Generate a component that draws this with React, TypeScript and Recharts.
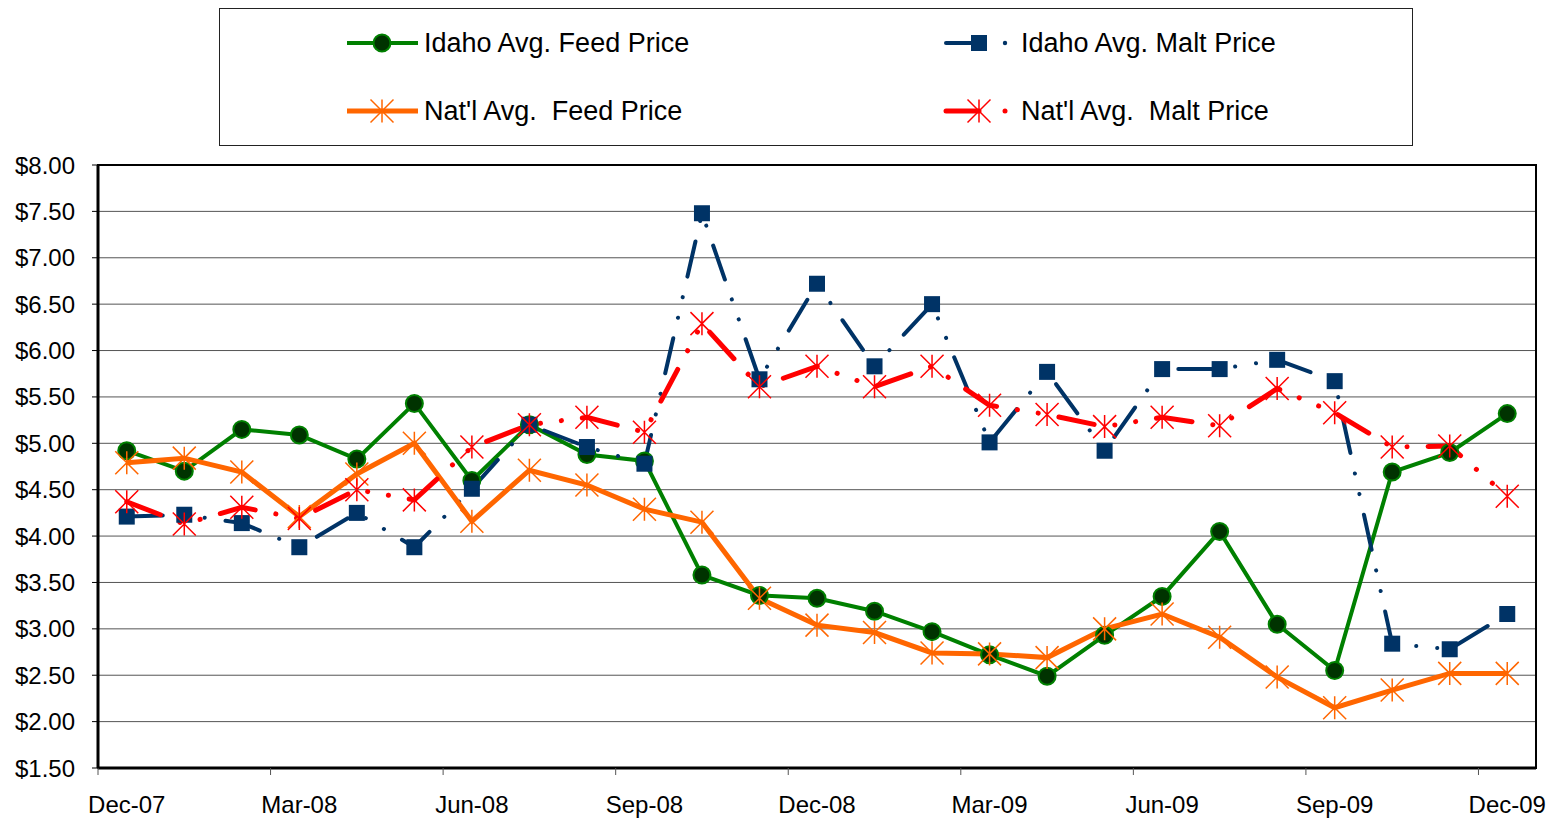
import React from 'react';
import { CartesianGrid, Line, LineChart, ReferenceArea, XAxis, YAxis } from 'recharts';

const months = [
  'Dec-07', 'Jan-08', 'Feb-08', 'Mar-08', 'Apr-08', 'May-08', 'Jun-08', 'Jul-08', 'Aug-08',
  'Sep-08', 'Oct-08', 'Nov-08', 'Dec-08', 'Jan-09', 'Feb-09', 'Mar-09', 'Apr-09', 'May-09',
  'Jun-09', 'Jul-09', 'Aug-09', 'Sep-09', 'Oct-09', 'Nov-09', 'Dec-09',
];

const idahoFeed = [4.92, 4.7, 5.15, 5.09, 4.83, 5.43, 4.6, 5.2, 4.88, 4.81, 3.58, 3.36, 3.33, 3.19, 2.97, 2.72, 2.49, 2.93, 3.35, 4.05, 3.05, 2.55, 4.69, 4.9, 5.32];
const idahoMalt = [4.21, 4.23, 4.14, 3.88, 4.25, 3.88, 4.51, 5.2, 4.96, 4.78, 7.48, 5.69, 6.72, 5.83, 6.5, 5.01, 5.77, 4.92, 5.8, 5.8, 5.9, 5.67, 2.84, 2.78, 3.16];
const natlFeed = [4.79, 4.84, 4.69, 4.21, 4.67, 5.0, 4.16, 4.71, 4.55, 4.29, 4.15, 3.33, 3.04, 2.96, 2.74, 2.73, 2.69, 3.0, 3.16, 2.91, 2.48, 2.15, 2.34, 2.52, 2.52];
const natlMalt = [4.37, 4.13, 4.31, 4.19, 4.5, 4.39, 4.96, 5.2, 5.28, 5.12, 6.29, 5.61, 5.83, 5.61, 5.83, 5.41, 5.31, 5.18, 5.28, 5.19, 5.59, 5.33, 4.96, 4.97, 4.43];

const priceTicks = [1.5, 2, 2.5, 3, 3.5, 4, 4.5, 5, 5.5, 6, 6.5, 7, 7.5, 8];

const data = months.map((month, i) => ({
  month,
  idahoFeed: idahoFeed[i],
  idahoMalt: idahoMalt[i],
  natlFeed: natlFeed[i],
  natlMalt: natlMalt[i],
}));

const W = 1548;
const H = 813;
const MARGIN = { top: 157, right: 20, bottom: 8, left: 8 };
const Y_W = 82;
const X_H = 45;
const PLOT_W = W - MARGIN.left - MARGIN.right - Y_W;
const PLOT_BOTTOM = H - MARGIN.bottom - X_H;
const BAND = PLOT_W / months.length;

const GREEN = '#008000';
const NAVY = '#003366';
const ORANGE = '#FF6600';
const RED = '#FF0000';
const DASH_DOT_DOT = '36 21 0.1 21 0.1 21';
const FONT = "'Liberation Sans', Arial, sans-serif";

const circleDot = (p: any) => (
  <circle key={p.key} cx={p.cx} cy={p.cy} r={8.5} fill="#003300" stroke={GREEN} strokeWidth={2} />
);
const squareDot = (p: any) => (
  <rect key={p.key} x={p.cx - 8} y={p.cy - 8} width={16} height={16} fill={NAVY} />
);
const starPath = (cx: number, cy: number, s: number) =>
  `M${cx},${cy - s}V${cy + s}M${cx - s},${cy - s}L${cx + s},${cy + s}M${cx + s},${cy - s}L${cx - s},${cy + s}`;
const starDot = (color: string) => (p: any) => (
  <path key={p.key} d={starPath(p.cx, p.cy, 11.5)} stroke={color} strokeWidth={1.5} fill="none" />
);

const MonthTick = ({ x, payload }: any) => (
  <g>
    <line x1={x - BAND / 2} x2={x - BAND / 2} y1={PLOT_BOTTOM} y2={PLOT_BOTTOM + 7} stroke="#555" />
    <text x={x} y={PLOT_BOTTOM + 45} textAnchor="middle" fontSize={24} fill="#000" fontFamily={FONT}>
      {payload.value}
    </text>
  </g>
);

const ChartLegend = () => {
  const r1 = 35;
  const r2 = 103;
  const label = (x: number, y: number, t: string) => (
    <text x={x} y={y + 9} fontSize={27} fill="#000" fontFamily={FONT} style={{ whiteSpace: 'pre' }}>
      {t}
    </text>
  );
  return (
    <svg width={1195} height={139} style={{ position: 'absolute', left: 211, top: 0 }}>
      <rect x={0.5} y={0.5} width={1193} height={137} fill="#fff" stroke="#222" />
      <line x1={128} x2={199} y1={r1} y2={r1} stroke={GREEN} strokeWidth={4} />
      <circle cx={163} cy={r1} r={8.5} fill="#003300" stroke={GREEN} strokeWidth={2} />
      {label(205, r1, 'Idaho Avg. Feed Price')}
      <line x1={128} x2={199} y1={r2} y2={r2} stroke={ORANGE} strokeWidth={5} />
      <path d={starPath(163, r2, 11.5)} stroke={ORANGE} strokeWidth={1.5} fill="none" />
      {label(205, r2, "Nat'l Avg.  Feed Price")}
      <line x1={727} x2={760} y1={r1} y2={r1} stroke={NAVY} strokeWidth={4} strokeLinecap="round" />
      <rect x={752} y={r1 - 8} width={16} height={16} fill={NAVY} />
      <circle cx={786} cy={r1} r={2.2} fill={NAVY} />
      {label(802, r1, 'Idaho Avg. Malt Price')}
      <line x1={727} x2={760} y1={r2} y2={r2} stroke={RED} strokeWidth={5} strokeLinecap="round" />
      <path d={starPath(760, r2, 11.5)} stroke={RED} strokeWidth={1.5} fill="none" />
      <circle cx={786} cy={r2} r={2.5} fill={RED} />
      {label(802, r2, "Nat'l Avg.  Malt Price")}
    </svg>
  );
};

export default function App() {
  return (
    <div style={{ position: 'relative', width: W, height: H, fontFamily: FONT }}>
      <LineChart width={W} height={H} data={data} margin={MARGIN}>
        <CartesianGrid horizontal vertical={false} stroke="#555" />
        <ReferenceArea y1={1.5} y2={8} fill="none" stroke="#000" strokeWidth={2} ifOverflow="visible" />
        <XAxis
          dataKey="month"
          scale="band"
          interval={2}
          height={X_H}
          tickLine={false}
          axisLine={{ stroke: '#000', strokeWidth: 3 }}
          tick={<MonthTick />}
        />
        <YAxis
          width={Y_W}
          domain={[1.5, 8]}
          ticks={priceTicks}
          interval={0}
          tickFormatter={(v: number) => `$${v.toFixed(2)}`}
          tickSize={6}
          tickMargin={17}
          tickLine={{ stroke: '#000' }}
          axisLine={{ stroke: '#000', strokeWidth: 3 }}
          tick={{ fill: '#000', fontSize: 24, fontFamily: FONT }}
        />
        <Line dataKey="idahoFeed" stroke={GREEN} strokeWidth={4} dot={circleDot} activeDot={false} isAnimationActive={false} />
        <Line
          dataKey="idahoMalt"
          stroke={NAVY}
          strokeWidth={4}
          strokeDasharray={DASH_DOT_DOT}
          strokeLinecap="round"
          dot={squareDot}
          activeDot={false}
          isAnimationActive={false}
        />
        <Line dataKey="natlFeed" stroke={ORANGE} strokeWidth={5} dot={starDot(ORANGE)} activeDot={false} isAnimationActive={false} />
        <Line
          dataKey="natlMalt"
          stroke={RED}
          strokeWidth={5}
          strokeDasharray={DASH_DOT_DOT}
          strokeLinecap="round"
          dot={starDot(RED)}
          activeDot={false}
          isAnimationActive={false}
        />
      </LineChart>
      <ChartLegend />
    </div>
  );
}
